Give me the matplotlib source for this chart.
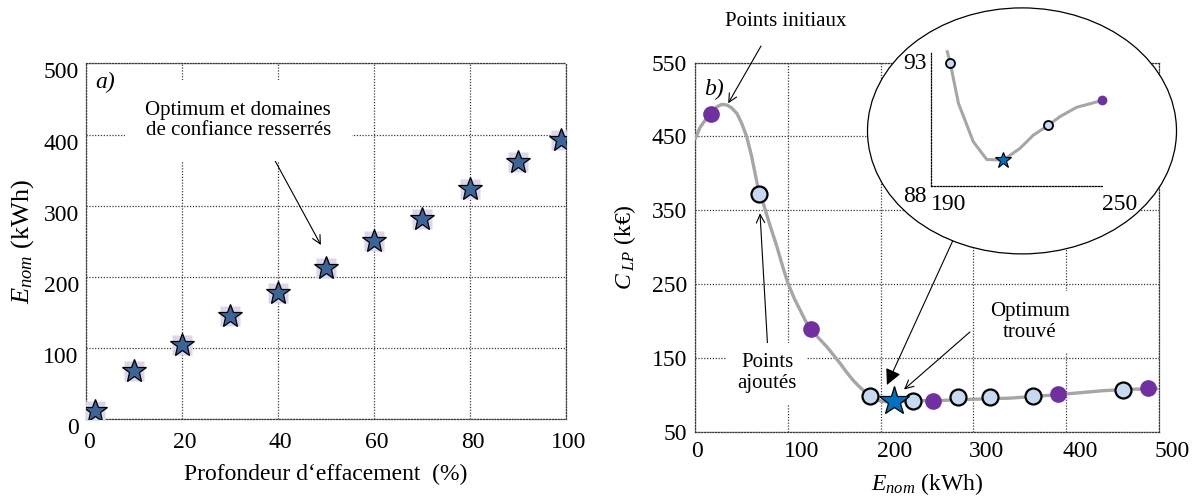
import numpy as np
import matplotlib
matplotlib.use('Agg')
import matplotlib.pyplot as plt
from matplotlib.patches import Ellipse
from matplotlib.transforms import ScaledTranslation

plt.rcParams['font.family'] = ['Liberation Serif', 'DejaVu Serif']
plt.rcParams['mathtext.fontset'] = 'custom'
plt.rcParams['mathtext.rm'] = 'Liberation Serif'
plt.rcParams['mathtext.it'] = 'Liberation Serif:italic'

# ---------------- data ----------------
# panel a)
depth_pct = [2, 10, 20, 30, 40, 50, 60, 70, 80, 90, 99]
energy_kwh = [12, 68, 104, 145, 178, 212, 250, 282, 323, 362, 392]
a_xticks = [0, 20, 40, 60, 80, 100]
a_yticks = [0, 100, 200, 300, 400, 500]

# panel b)  (smooth curve traced from the picture)
curve_x = [0, 5, 10, 16.6, 23, 28.5, 34, 39, 45, 50, 55.4, 60.8, 65, 69, 73.4, 80, 88, 94,
           100, 107, 113, 119, 124.5, 133, 142, 149, 156, 163, 170, 177, 183, 189, 195,
           200, 207, 215, 225, 235, 256, 280, 300, 340, 372, 399, 440, 470, 498]
curve_y = [447, 462, 471, 480.5, 490, 493.5, 492.7, 489, 481, 468, 450, 423, 397, 372, 359,
           332, 301, 275, 251, 230, 215, 200, 188.7, 177, 165, 154, 143, 131, 120, 111, 104,
           98, 94, 91.5, 90.5, 91, 91.5, 92, 92, 93, 94, 95.5, 98.4, 101, 105.6, 107.5, 108]
initial_x = [16.6, 124.5, 256, 391, 488.7]
initial_y = [480.5, 188.7, 92, 101, 108.7]
added_x = [69, 188.5, 235.2, 283.7, 318, 364.6, 461]
added_y = [371.7, 98.8, 92, 96.6, 96.6, 98.8, 106.5]
optimum_x = [214.7]
optimum_y = [92]
b_xticks = [0, 100, 200, 300, 400, 500]
b_yticks = [50, 150, 250, 350, 450, 550]

# inset (zoom)
zoom_curve_x = [195.8, 196.8, 199.7, 204.9, 209.6, 215.4, 221.2, 225.9, 231.1, 235.2, 241.0, 250]
zoom_curve_y = [93.06, 92.65, 91.11, 89.66, 88.99, 88.97, 89.41, 89.91, 90.28, 90.61, 90.96, 91.22]
zoom_added_x = [196.8, 231.1]
zoom_added_y = [92.65, 90.28]
zoom_initial_x = [250]
zoom_initial_y = [91.22]
zoom_opt_x = [215.4]
zoom_opt_y = [88.97]
zoom_xticks = [190, 250]
zoom_yticks = [88, 93]

# ---------------- style ----------------
GRID = dict(color='#3a3a3a', linestyle=(0, (1, 1.3)), linewidth=0.9)
PURPLE = '#7030a0'
LIGHTBLUE = '#c6d9f1'
STARBLUE = '#0070c0'
STAR_A = '#3b6498'
CURVE = '#a6a6a6'
FS = 17
AFS = 15
ARROW = dict(arrowstyle='->', color='black', lw=0.8, mutation_scale=15, shrinkA=0, shrinkB=0)

fig = plt.figure(figsize=(11.99, 5.04), dpi=100)
W, H = 1199, 504


def px_axes(x0, y0, x1, y1, **kw):
    return fig.add_axes([x0 / W, 1 - y1 / H, (x1 - x0) / W, (y1 - y0) / H], **kw)


def dotted_frame(ax):
    for s in ax.spines.values():
        s.set_linestyle((0, (1, 1.3)))
        s.set_color('#3a3a3a')
        s.set_linewidth(0.9)


# ---------------- panel a ----------------
axa = px_axes(85.7, 63.3, 565.7, 419.3)
axa.set_xlim(0, 100)
axa.set_ylim(0, 500)
axa.set_xticks(a_xticks)
axa.set_yticks(a_yticks)
axa.grid(True, **GRID)
axa.set_axisbelow(True)
dotted_frame(axa)
axa.tick_params(length=0, labelsize=FS)
axa.tick_params(axis='y', pad=5)
axa.tick_params(axis='x', pad=9)
for lab in axa.get_yticklabels():
    lab.set_transform(lab.get_transform() + ScaledTranslation(0, -7 / 100, fig.dpi_scale_trans))
for lab in axa.get_xticklabels():
    lab.set_transform(lab.get_transform() + ScaledTranslation(3 / 100, 0, fig.dpi_scale_trans))

axa.plot(depth_pct, energy_kwh, linestyle='none', marker='s', ms=14,
         mfc='#ddd6e8', mec='none', zorder=3)
axa.plot(depth_pct, energy_kwh, linestyle='none', marker='*', ms=18,
         mfc=STAR_A, mec='black', mew=0.9, zorder=4)

axa.text(0.02, 0.975, 'a)', transform=axa.transAxes, fontsize=FS, style='italic',
         ha='left', va='top')
axa.text(31.8, 420, 'Optimum et domaines\nde confiance resserrés',
         fontsize=AFS, ha='center', va='center', linespacing=1.1, zorder=5,
         bbox=dict(boxstyle='square,pad=1.0', fc='white', ec='none'))
axa.annotate('', xy=(49, 244.8), xytext=(38.8, 371.2), arrowprops=ARROW)
axa.set_xlabel('Profondeur d\u2018effacement  (%)', fontsize=FS, labelpad=8)
axa.set_ylabel(r'$E_{nom}$ (kWh)', fontsize=19, labelpad=5)

# ---------------- panel b ----------------
axb = px_axes(695.3, 62.7, 1158.7, 431.7)
axb.set_xlim(0, 500)
axb.set_ylim(50, 550)
axb.set_xticks(b_xticks)
axb.set_yticks(b_yticks)
axb.grid(True, **GRID)
axb.set_axisbelow(True)
dotted_frame(axb)
axb.tick_params(length=0, labelsize=FS)
axb.tick_params(axis='y', pad=6)
axb.tick_params(axis='x', pad=7)
for lab in axb.get_xticklabels():
    lab.set_horizontalalignment('left')
    lab.set_transform(lab.get_transform() + ScaledTranslation(-4 / 100, 0, fig.dpi_scale_trans))

axb.plot(curve_x, curve_y, color=CURVE, lw=2.4, zorder=3, solid_capstyle='round',
         solid_joinstyle='round')
axb.plot(initial_x, initial_y, linestyle='none', marker='o', ms=12, mfc=PURPLE, mec='none', zorder=4)
axb.plot(added_x, added_y, linestyle='none', marker='o', ms=11.5, mfc=LIGHTBLUE, mec='black',
         mew=1.6, zorder=5)
axb.plot(optimum_x, optimum_y, linestyle='none', marker='*', ms=22, mfc=STARBLUE, mec='black',
         mew=0.9, zorder=6)

axb.text(0.02, 0.955, 'b)', transform=axb.transAxes, fontsize=FS, style='italic',
         ha='left', va='top')
axb.set_xlabel(r'$E_{nom}$ (kWh)', fontsize=FS, labelpad=6)
axb.set_ylabel(r'$C_{\ LP}$ (k€)', fontsize=FS, labelpad=10)

# annotations panel b
axb.text(98, 606, 'Points initiaux', fontsize=AFS, ha='center', va='center', clip_on=False)
axb.annotate('', xy=(35.5, 495), xytext=(70.9, 572.6), annotation_clip=False, arrowprops=ARROW)
axb.text(77.5, 129, 'Points\najoutés', fontsize=AFS, ha='center', va='center',
         linespacing=1.15, zorder=5,
         bbox=dict(boxstyle='square,pad=0.5', fc='white', ec='none'))
axb.annotate('', xy=(69.8, 346), xytext=(79, 144.6), arrowprops=ARROW)
axb.text(361, 199, 'Optimum\ntrouvé', fontsize=AFS, ha='center', va='center',
         linespacing=1.15, zorder=5,
         bbox=dict(boxstyle='square,pad=0.5', fc='white', ec='none'))
axb.annotate('', xy=(225.2, 107.2), xytext=(296.3, 185.1), arrowprops=ARROW)
axb.annotate('', xy=(206.7, 113.3), xytext=(278.7, 311.2),
             arrowprops=dict(arrowstyle='-|>', color='black', lw=0.8, mutation_scale=24,
                             shrinkA=0, shrinkB=0))

# ---------------- magnifier ellipse + inset ----------------
ell = Ellipse((1022 / W, 1 - 130.9 / H), 309 / W, 246 / H, transform=fig.transFigure,
              fc='white', ec='black', lw=0.9, zorder=2)
fig.add_artist(ell)

axi = px_axes(930.7, 53.3, 1102.3, 185.7)
axi.set_zorder(3)
axi.patch.set_alpha(0)
axi.set_xlim(190, 250)
axi.set_ylim(88, 93)
axi.set_xticks(zoom_xticks)
axi.set_yticks(zoom_yticks)
for side in ('top', 'right'):
    axi.spines[side].set_visible(False)
for side in ('left', 'bottom'):
    axi.spines[side].set_linestyle((0, (1, 1.3)))
    axi.spines[side].set_linewidth(0.9)
axi.tick_params(length=0, labelsize=FS)
axi.tick_params(axis='y', pad=3)
axi.tick_params(axis='x', pad=6)
for lab in axi.get_xticklabels():
    lab.set_horizontalalignment('left')
for lab in axi.get_yticklabels():
    lab.set_verticalalignment('top')
axi.plot(zoom_curve_x, zoom_curve_y, color=CURVE, lw=2.2, zorder=3, clip_on=False,
         solid_joinstyle='round')
axi.plot(zoom_added_x, zoom_added_y, linestyle='none', marker='o', ms=6.5, mfc=LIGHTBLUE,
         mec='black', mew=1.3, zorder=4, clip_on=False)
axi.plot(zoom_initial_x, zoom_initial_y, linestyle='none', marker='o', ms=7, mfc=PURPLE,
         mec='none', zorder=4, clip_on=False)
axi.plot(zoom_opt_x, zoom_opt_y, linestyle='none', marker='*', ms=12, mfc=STARBLUE,
         mec='black', mew=0.8, zorder=5, clip_on=False)

fig.savefig('out.png', dpi=100)
